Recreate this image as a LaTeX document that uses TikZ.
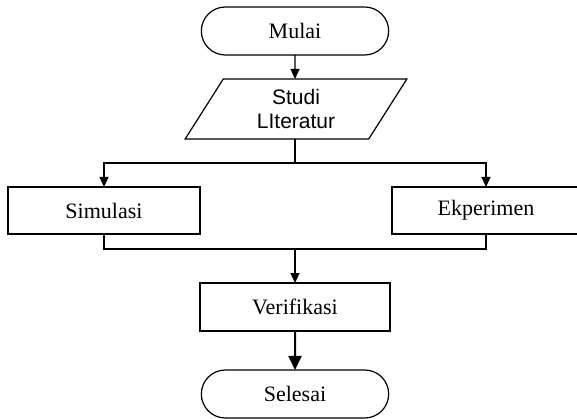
\documentclass[tikz,border=0pt]{standalone}
\usepackage{fontspec}
\setmainfont{Liberation Serif}
\newfontfamily\arialfont{Liberation Sans}
\usetikzlibrary{shapes.misc,shapes.geometric,arrows.meta}

\begin{document}
\begin{tikzpicture}[x=1pt,y=-1pt,line width=1.2pt,
  terminal/.style={draw,rounded rectangle,minimum width=194pt,minimum height=48pt,font=\fontsize{22}{24}\selectfont,outer sep=0pt},
  proses/.style={draw,rectangle,minimum height=47pt,font=\fontsize{22}{24}\selectfont,outer sep=0pt},
  dataio/.style={draw,trapezium,trapezium stretches=true,trapezium left angle=64,trapezium right angle=116,minimum width=222pt,minimum height=60pt,align=center,font=\arialfont\fontsize{21}{23.5}\selectfont,outer sep=0pt},
  panah/.style={-{Triangle[length=10pt,width=9pt]}},
  panahbesar/.style={line width=2pt,-{Triangle[length=14pt,width=13pt]}}]
\clip (0,0) rectangle (577,419);
\node[terminal] (mulai) at (295,31) {Mulai};
\node[dataio] (studi) at (296,109) {Studi\\LIteratur};
\node[proses,minimum width=192pt] (simulasi) at (104,210.5) {Simulasi};
\node[proses,minimum width=188pt] (ekperimen) at (486,210.5) {Ekperimen};
\node[proses,minimum width=190pt,minimum height=48pt] (verifikasi) at (295,307) {Verifikasi};
\node[terminal] (selesai) at (295,394) {Selesai};
\coordinate (cabang) at (295,163);
\coordinate (gabung) at (295,249);
\draw[panah] (mulai) -- (mulai.south |- studi.north);
\draw (cabang |- studi.south) -- (cabang);
\draw[panah] (cabang) -| (simulasi.north);
\draw[panah] (cabang) -| (ekperimen.north);
\draw (simulasi.south) |- (gabung);
\draw (ekperimen.south) |- (gabung);
\draw[panah] (gabung) -- (verifikasi.north);
\draw[panahbesar] (verifikasi) -- (selesai);
\end{tikzpicture}
\end{document}
